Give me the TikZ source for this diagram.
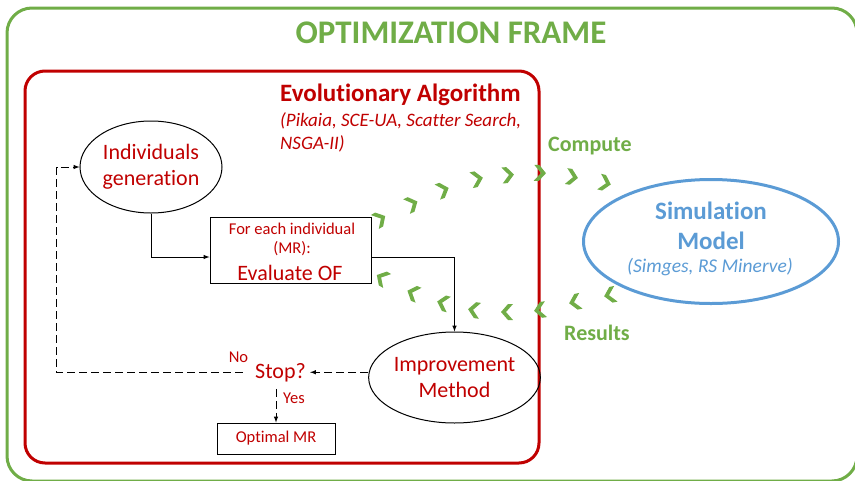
\documentclass[tikz,border=0pt]{standalone}
\usepackage{fontspec}
\setmainfont{Carlito}[Ligatures=NoCommon]
\usepackage{xcolor}
\usetikzlibrary{shapes,arrows,positioning}

\definecolor{framegreen}{RGB}{112,173,71}
\definecolor{algred}{RGB}{192,0,0}
\definecolor{simblue}{RGB}{91,155,213}
\newcommand{\fsz}[2]{\fontsize{#1}{#2}\selectfont}

\begin{document}
\begin{tikzpicture}[x=1pt, y=-1pt, >=latex,
    flowellipse/.style={draw, ellipse, line width=1pt, text=algred, align=center, inner sep=0pt, font=\fsz{22}{26}},
    flowbox/.style={draw, rectangle, line width=1pt, inner sep=0pt},
    redtext/.style={text=algred, inner sep=0pt},
    greentext/.style={text=framegreen, font=\bfseries\fsz{22}{26}, inner sep=0pt},
    link/.style={->, line width=1pt},
    dashlink/.style={line width=1pt, dash pattern=on 8pt off 4pt}]

    \useasboundingbox (0,0) rectangle (855,480);
    \clip (0,0) rectangle (855,480);

    % Optimization frame
    \draw[framegreen, line width=3pt, rounded corners=25pt] (7,8) rectangle (857,481);
    \node[text=framegreen, font=\bfseries\fsz{33}{38}, inner sep=0pt, anchor=base] (frametitle) at (451,43) {OPTIMIZATION FRAME};

    % Evolutionary algorithm frame
    \draw[algred, line width=3pt, rounded corners=20pt] (25,71) rectangle (539,463);
    \node[redtext, font=\bfseries\fsz{25}{29}, anchor=base west] (algtitle) at (280,101) {Evolutionary Algorithm};
    \node[redtext, font=\itshape\fsz{19}{23}, anchor=base west] (algnames) at (280,126) {(Pikaia, SCE-UA, Scatter Search,};
    \node[redtext, font=\itshape\fsz{19}{23}, anchor=base west] (algnamesb) at (280,149) {NSGA-II)};

    % Individuals generation
    \node[flowellipse, minimum width=142pt, minimum height=92pt] (gen) at (151,167) {Individuals\\generation};

    % Evaluation of each individual
    \node[flowbox, minimum width=161pt, minimum height=66pt] (evalbox) at (290.5,250) {};
    \node[redtext, font=\fsz{16.5}{19}, anchor=base] (eachtxt) at (292,234) {For each individual};
    \node[redtext, font=\fsz{16.5}{19}, anchor=base] (mrtxt) at (292,253) {(MR):};
    \node[redtext, font=\fsz{22}{26}, anchor=base] (oftxt) at (290,280) {Evaluate OF};

    % Improvement method
    \node[flowellipse, minimum width=141pt, minimum height=91pt] (imp) at (454.5,377.5) {Improvement\\Method};

    % Stop test and result
    \node[redtext, font=\fsz{22}{26}, inner sep=4pt, anchor=base] (stop) at (280.5,378) {Stop?};
    \node[flowbox, minimum width=118pt, minimum height=31pt, text=algred, font=\fsz{16.5}{19}] (optimal) at (276,438.5) {Optimal MR};
    \node[redtext, font=\fsz{16.5}{19}, anchor=base] (notxt) at (238.5,362) {No};
    \node[redtext, font=\fsz{16.5}{19}, anchor=base west] (yestxt) at (283,403) {Yes};

    % Simulation model
    \node[draw=simblue, ellipse, line width=3pt, minimum width=255pt, minimum height=124pt] (simmodel) at (711,241.5) {};
    \node[text=simblue, font=\bfseries\fsz{25}{30}, inner sep=0pt, anchor=base] (simtxt) at (711,219) {Simulation};
    \node[text=simblue, font=\bfseries\fsz{25}{30}, inner sep=0pt, anchor=base] (modeltxt) at (711,249) {Model};
    \node[text=simblue, font=\itshape\fsz{19.5}{22}, inner sep=0pt, anchor=base] (simnames) at (710,272.5) {(Simges, RS Minerve)};
    \node[greentext, anchor=base west] (computetxt) at (548,151.7) {Compute};
    \node[greentext, anchor=base west] (resultstxt) at (564,340) {Results};

    % Flow connectors
    \draw[link] (gen.south) |- ([yshift=-7pt]evalbox.west);
    \draw[link] ([yshift=-7pt]evalbox.east) -| (imp.north);
    \draw[dashlink, ->] (imp.west |- stop.east) -- (stop.east);
    \draw[dashlink, ->] ([xshift=-8pt]stop.west) -| ([xshift=-23pt]gen.west) -- (gen.west);
    \draw[dashlink, ->] ([yshift=-3pt]optimal.north |- stop.south) -- (optimal.north);

    % Compute chevrons (to the model)
    \foreach \cx/\cy/\ca in {380/219/30, 412/204/25, 443/190/20, 477/179/12, 508/175/5, 540/173/-2, 572/177/-9, 605/183/-14}
        \fill[framegreen, shift={(\cx,\cy)}, rotate=\ca] (-6,-8) -- (-1,-8) -- (6,0) -- (-1,8) -- (-6,8) -- (1,0) -- cycle;

    % Results chevrons (back to the algorithm)
    \foreach \cx/\cy/\ca in {610/295/192, 575/302/192, 540/310/188, 507/312/180, 474/310/172, 443/303/165, 413/293/158, 382/278/150}
        \fill[framegreen, shift={(\cx,\cy)}, rotate=\ca] (-6,-8) -- (-1,-8) -- (6,0) -- (-1,8) -- (-6,8) -- (1,0) -- cycle;
\end{tikzpicture}
\end{document}
